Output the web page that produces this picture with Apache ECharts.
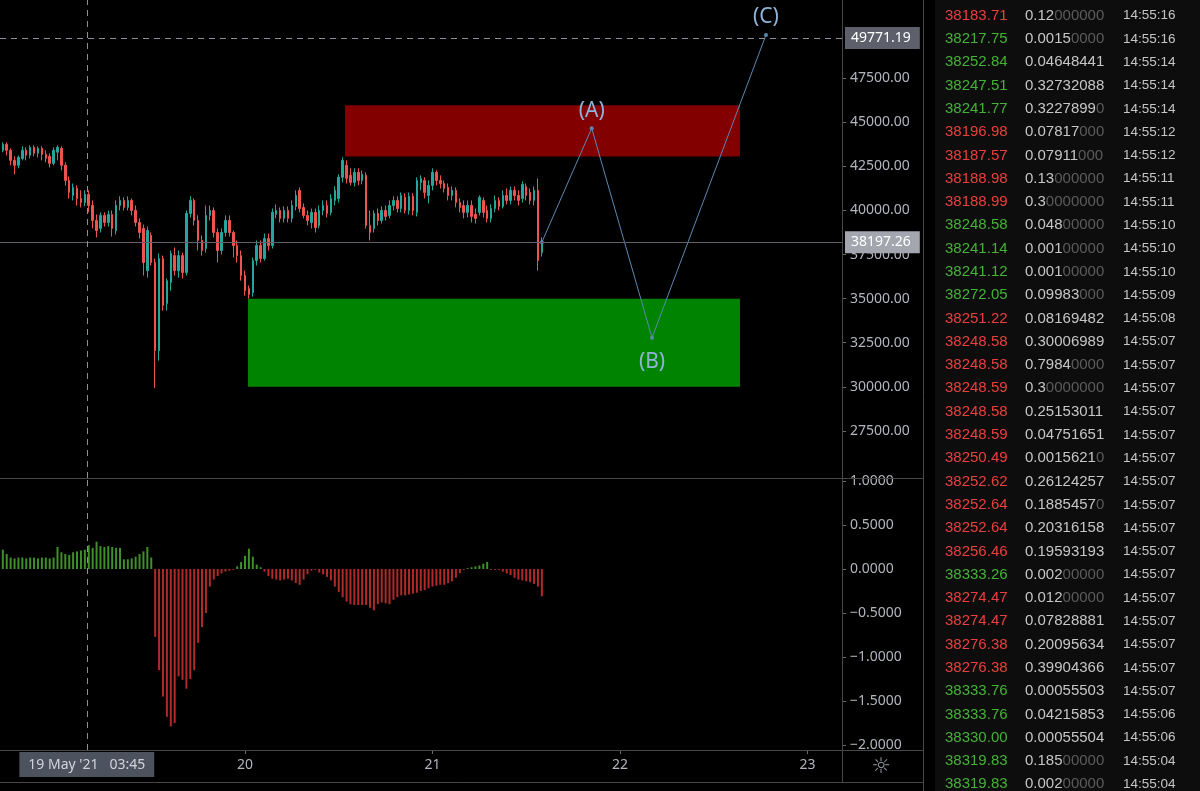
<!DOCTYPE html>
<html><head><meta charset="utf-8">
<script src="https://cdn.jsdelivr.net/npm/echarts@6/dist/echarts.min.js"></script>
<style>html,body{margin:0;padding:0;background:#000;}#c{width:1200px;height:791px;}</style>
</head><body><div id="c"></div>
<script>
// ---- data (hours are counted from 19 May 2021 00:00) ----
const candleStartHour = -7;
const candleStepHours = 0.5;
// [open, close, low, high]
const candles = [
[43410,43750,43300,43860],[43750,43410,43125,43860],[43410,42840,42560,43520],[42840,42560,42050,43070],
[42560,43010,42390,43125],[42950,43410,42840,43640],[43410,43125,42840,43580],[43125,43580,42950,43690],
[43580,43240,43070,43690],[43240,43520,43010,43640],[43520,43180,42840,43640],[43180,42950,42730,43410],
[43070,42670,42440,43240],[42670,43410,42560,43580],[43300,43580,42840,43690],[43520,42560,42270,43640],
[42560,41700,41420,42730],[41700,41020,40680,41930],[40850,41310,40570,41530],[41250,40680,40280,41420],
[40680,40450,40170,41140],[40450,40910,40230,41140],[40910,40280,39890,41140],[40280,39430,38980,40570],
[39430,38860,38470,39770],[38980,39720,38750,39890],[39720,39320,39090,39890],[39320,39770,39090,40000],
[39770,38980,38520,40000],[38860,40280,38640,40570],[40280,40570,40000,40800],[40570,40170,40000,40740],
[40170,40570,40000,40800],[40570,40000,39720,40680],[40000,39320,39090,40280],[39320,38750,38410,39550],
[38980,37050,36310,39200],[36590,38860,36190,39090],[38580,37050,36880,38750],[37050,32050,29940,37270],
[32050,37270,31480,37560],[37270,34600,34320,37440],[34720,36020,34320,36140],[35910,37560,35450,37730],
[37440,36590,36310,37900],[36590,37440,36190,37730],[37440,36480,36140,37610],[36480,39830,36310,40000],
[39830,40570,39600,40800],[40570,39430,39150,40680],[39430,38300,37730,39720],[38300,37730,37440,38580],
[37840,39720,37610,40280],[39720,40000,39430,40280],[40000,38750,38470,40170],[38750,37730,37050,38980],
[37730,38750,37500,38980],[38750,39430,38520,39720],[39430,38750,38520,39720],[38750,38010,37330,38860],
[38010,37440,37050,38300],[37440,36310,36020,37730],[36310,35450,35170,36590],[35570,35230,35000,35740],
[35340,37160,35110,37330],[37160,38010,36880,38300],[38010,37270,37050,38300],[37270,38410,37160,38690],
[38410,38010,37730,38690],[38010,39890,37840,40110],[39770,40000,39550,40340],[40000,39550,39320,40170],
[39550,40000,39320,40230],[40000,39550,39320,40230],[39550,40280,39320,40570],[40230,40850,40000,41140],
[41140,40110,39890,41310],[40170,39720,39550,40400],[39720,39430,39150,40000],[39320,39890,38980,40110],
[39890,39030,38750,40110],[39150,40000,38980,40280],[40000,40280,39720,40570],[40280,39830,39600,40570],
[39890,40680,39720,40910],[40570,41140,40280,41360],[40680,41880,40450,42050],[41880,42840,41590,43010],
[42560,41820,41530,42840],[41990,41590,41420,42390],[41590,42160,41360,42390],[42160,41700,41420,42390],
[41700,42050,41480,42270],[41990,39150,38980,42160],[39150,38750,38300,40000],[38980,39830,38750,40000],
[39830,39430,39150,40110],[39430,40000,39260,40230],[40000,39660,39430,40280],[39720,40280,39550,40570],
[40280,40570,40000,40800],[40570,40110,39890,40800],[40110,40850,39890,41020],[40740,40000,39830,40970],
[40000,40800,39770,41020],[40800,40000,39720,40970],[39890,41700,39660,41880],[41590,41820,41140,41990],
[41700,41020,40680,41880],[40850,41420,40400,41700],[41420,42160,41140,42390],[42160,41700,41420,42270],
[41700,41530,41250,41990],[41530,41250,41020,41700],[41310,40850,40570,41530],[40850,41140,40570,41360],
[41140,40450,40170,41310],[40450,40170,39890,40680],[40280,39890,39550,40570],[39890,40280,39600,40570],
[40280,39660,39320,40570],[39770,39550,39260,40110],[39890,40740,39720,40850],[40570,39890,39600,40740],
[40000,39550,39320,40280],[39550,40110,39320,40340],[40110,40570,39890,40850],[40570,40230,40000,40740],
[40230,40850,40110,41140],[40850,40570,40340,41250],[40570,41140,40340,41360],[41140,40850,40570,41360],
[40850,40570,40280,41140],[40680,41480,40450,41650],[41360,40850,40570,41530],[41020,40570,40340,41250],
[40570,41140,40280,41360],[41140,37160,36590,41820],[37610,38197.26,37390,38470]
];
const oscValues = [
0.22,0.17,0.13,0.12,0.13,0.13,0.12,0.13,0.13,0.12,0.13,0.13,0.12,0.13,0.25,0.19,0.17,0.16,0.19,0.20,
0.21,0.22,0.27,0.24,0.31,0.26,0.25,0.26,0.25,0.24,0.24,0.11,0.11,0.12,0.14,0.17,0.20,0.25,0.13,-0.77,
-1.15,-1.45,-1.68,-1.79,-1.75,-1.22,-1.26,-1.36,-1.25,-1.15,-0.84,-0.66,-0.50,-0.20,-0.12,-0.08,-0.05,-0.03,-0.02,-0.01,
0.03,0.08,0.15,0.23,0.14,0.05,0.02,-0.03,-0.08,-0.11,-0.12,-0.13,-0.12,-0.11,-0.13,-0.16,-0.18,-0.12,-0.06,-0.02,
-0.01,-0.04,-0.06,-0.09,-0.13,-0.20,-0.26,-0.32,-0.37,-0.40,-0.41,-0.41,-0.41,-0.41,-0.44,-0.47,-0.40,-0.38,-0.39,-0.40,
-0.35,-0.32,-0.30,-0.30,-0.29,-0.28,-0.27,-0.25,-0.24,-0.22,-0.20,-0.19,-0.18,-0.18,-0.16,-0.14,-0.10,-0.05,-0.01,0.01,
0.02,0.03,0.04,0.06,0.08,-0.01,-0.01,-0.01,-0.03,-0.05,-0.07,-0.10,-0.12,-0.13,-0.14,-0.15,-0.17,-0.20,-0.31
];
const dayTicks = [24, 48, 72, 96];
const dayLabels = ['20', '21', '22', '23'];
const priceTicks = [27500, 30000, 32500, 35000, 37500, 40000, 42500, 45000, 47500];
const oscTicks = [-2, -1.5, -1, -0.5, 0, 0.5, 1];
const lastPrice = 38197.26;
const crossPrice = 49771.19;
const crossHour = 3.75;
const crossLabel = "19 May '21   03:45";
// [fromHour, toHour, bottomPrice, topPrice]
const supplyZone = [36.8, 87.36, 43060, 45970];
const demandZone = [24.38, 87.36, 30000, 35000];
const waveHours = [62, 68.38, 76.1, 90.69];
const wavePrices = [38197.26, 44660, 32780, 49950];
const waveLabels = ['', '(A)', '(B)', '(C)'];
const tradePrices = ['38183.71','38217.75','38252.84','38247.51','38241.77','38196.98','38187.57','38188.98','38188.99','38248.58','38241.14','38241.12','38272.05','38251.22','38248.58','38248.58','38248.59','38248.58','38248.59','38250.49','38252.62','38252.64','38252.64','38256.46','38333.26','38274.47','38274.47','38276.38','38276.38','38333.76','38333.76','38330.00','38319.83','38319.83'];
const tradeSizes = ['0.12000000','0.00150000','0.04648441','0.32732088','0.32278990','0.07817000','0.07911000','0.13000000','0.30000000','0.04800000','0.00100000','0.00100000','0.09983000','0.08169482','0.30006989','0.79840000','0.30000000','0.25153011','0.04751651','0.00156210','0.26124257','0.18854570','0.20316158','0.19593193','0.00200000','0.01200000','0.07828881','0.20095634','0.39904366','0.00055503','0.04215853','0.00055504','0.18500000','0.00200000'];
const tradeTimes = ['14:55:16','14:55:16','14:55:14','14:55:14','14:55:14','14:55:12','14:55:12','14:55:11','14:55:11','14:55:10','14:55:10','14:55:10','14:55:09','14:55:08','14:55:07','14:55:07','14:55:07','14:55:07','14:55:07','14:55:07','14:55:07','14:55:07','14:55:07','14:55:07','14:55:07','14:55:07','14:55:07','14:55:07','14:55:07','14:55:07','14:55:06','14:55:06','14:55:04','14:55:04'];
const tradeSides = ['S','B','B','B','B','S','S','S','S','B','B','B','B','S','S','S','S','S','S','S','S','S','S','S','B','S','S','S','S','B','B','B','B','B'];

// ---- styling ----
const UP = '#26a69a', DOWN = '#ef5350';
const AXIS_TXT = '#b2b5be', SEP = '#474747', FONT = 'Noto Sans';
const X_MIN = -7.36, X_MAX = 100.42;

const candleData = candles.map((c, i) => [candleStartHour + i * candleStepHours, c[0], c[1], c[2], c[3]]);
const oscData = oscValues.map((v, i) => [candleStartHour + i * candleStepHours, v]);
const waveData = waveHours.map((h, i) => ({
  value: [h, wavePrices[i]],
  label: waveLabels[i] ? {show: true, formatter: waveLabels[i], position: i === 2 ? 'bottom' : 'top', distance: i === 2 ? 12 : 5} : {show: false}
}));

const graphics = [];
graphics.push({type: 'rect', shape: {x: 935, y: 0, width: 265, height: 791}, style: {fill: '#0d0d0d'}, z: 0});
const hl = (y, x1, x2) => graphics.push({type: 'line', shape: {x1: x1, y1: y + 0.5, x2: x2, y2: y + 0.5}, style: {stroke: SEP, lineWidth: 1}, z: 10});
const vl = (x, y1, y2) => graphics.push({type: 'line', shape: {x1: x + 0.5, y1: y1, x2: x + 0.5, y2: y2}, style: {stroke: SEP, lineWidth: 1}, z: 10});
hl(478, 0, 923); hl(750, 0, 923); hl(782, 0, 923);
vl(842, 0, 782); vl(923, 0, 791);
graphics.push({type: 'text', x: 881, y: 767, style: {text: '☼', fill: '#9598a1', fontSize: 22, fontFamily: 'DejaVu Sans', align: 'center', verticalAlign: 'middle', textAlign: 'center', textVerticalAlign: 'middle'}, z: 10});

const listTop = 15.7, rowH = 23.29;
tradePrices.forEach((p, i) => {
  const y = listTop + i * rowH;
  const col = tradeSides[i] === 'B' ? '#46b138' : '#e8403f';
  graphics.push({type: 'text', x: 945, y: y, style: {text: p, fill: col, fontSize: 15, fontFamily: 'Liberation Sans', verticalAlign: 'middle', textVerticalAlign: 'middle'}, z: 10});
  const m = tradeSizes[i].match(/^(.*?)(0*)$/);
  const txt = '{a|' + m[1] + '}' + (m[2] ? '{b|' + m[2] + '}' : '');
  graphics.push({type: 'text', x: 1025, y: y, style: {text: txt, fontSize: 15, fontFamily: 'Liberation Sans', verticalAlign: 'middle', textVerticalAlign: 'middle',
    rich: {a: {fill: '#c6c6c6', color: '#c6c6c6', fontSize: 15, fontFamily: 'Liberation Sans'}, b: {fill: '#5c5c5c', color: '#5c5c5c', fontSize: 15, fontFamily: 'Liberation Sans'}}}, z: 10});
  graphics.push({type: 'text', x: 1123, y: y, style: {text: tradeTimes[i], fill: '#c6c6c6', fontSize: 13.5, fontFamily: 'Liberation Sans', verticalAlign: 'middle', textVerticalAlign: 'middle'}, z: 10});
});

const priceLabel = (txt, bg) => ({show: true, position: 'end', formatter: txt, backgroundColor: bg, color: '#ffffff',
  padding: [3, 9, 3, 6], fontSize: 14, fontFamily: FONT, distance: 3, lineHeight: 16});

const chart = echarts.init(document.getElementById('c'), null, {renderer: 'canvas'});
chart.setOption({
  backgroundColor: '#000000',
  animation: false,
  grid: [
    {left: 0, top: 0, width: 842, height: 478},
    {left: 0, top: 478, width: 842, height: 272}
  ],
  xAxis: [
    {type: 'value', gridIndex: 0, min: X_MIN, max: X_MAX, show: false, axisLine: {onZero: false}, splitLine: {show: false}},
    {type: 'value', gridIndex: 1, min: X_MIN, max: X_MAX,
      axisLine: {show: true, onZero: false, lineStyle: {color: SEP}},
      axisTick: {show: true, length: 4, lineStyle: {color: '#6a6a6a'}, customValues: dayTicks},
      axisLabel: {show: true, customValues: dayTicks, color: AXIS_TXT, fontSize: 14, fontFamily: FONT, margin: 8,
        formatter: v => dayLabels[dayTicks.indexOf(v)] || ''},
      splitLine: {show: false}}
  ],
  yAxis: [
    {type: 'value', gridIndex: 0, position: 'right', min: 24830, max: 51932,
      axisLine: {show: true, onZero: false, lineStyle: {color: SEP}},
      axisTick: {show: true, length: 4, lineStyle: {color: '#6a6a6a'}, customValues: priceTicks},
      axisLabel: {show: true, customValues: priceTicks, color: AXIS_TXT, fontSize: 14, fontFamily: FONT, margin: 8, formatter: v => v.toFixed(2)},
      splitLine: {show: false}},
    {type: 'value', gridIndex: 1, position: 'right', min: -2.057, max: 1.034,
      axisLine: {show: true, onZero: false, lineStyle: {color: SEP}},
      axisTick: {show: true, length: 4, lineStyle: {color: '#6a6a6a'}, customValues: oscTicks},
      axisLabel: {show: true, customValues: oscTicks, color: AXIS_TXT, fontSize: 14, fontFamily: FONT, margin: 8,
        formatter: v => (v < 0 ? '\u2212' : '') + Math.abs(v).toFixed(4)},
      splitLine: {show: false}}
  ],
  series: [
    {
      type: 'candlestick', xAxisIndex: 0, yAxisIndex: 0,
      data: candleData, encode: {x: 0, y: [1, 2, 3, 4]},
      barWidth: 2,
      itemStyle: {color: UP, color0: DOWN, borderColor: UP, borderColor0: DOWN, borderWidth: 1},
      markArea: {silent: true, data: [
        [{coord: [supplyZone[0], supplyZone[3]], itemStyle: {color: '#820000'}}, {coord: [supplyZone[1], supplyZone[2]]}],
        [{coord: [demandZone[0], demandZone[3]], itemStyle: {color: '#008400'}}, {coord: [demandZone[1], demandZone[2]]}]
      ]},
      markLine: {silent: true, symbol: ['none', 'none'], z: 20, data: [
        {yAxis: lastPrice, lineStyle: {color: '#5f6068', type: 'solid', width: 1}, label: priceLabel(lastPrice.toFixed(2), '#a3a6af')},
        {yAxis: crossPrice, lineStyle: {color: '#8d9099', type: [6, 5], width: 1}, label: priceLabel(crossPrice.toFixed(2), '#5d606b')},
        {xAxis: crossHour, lineStyle: {color: '#8d9099', type: [6, 5], width: 1}, label: {show: false}}
      ]}
    },
    {
      type: 'line', xAxisIndex: 0, yAxisIndex: 0, data: waveData, z: 5,
      symbol: 'circle', symbolSize: 4, showSymbol: true,
      lineStyle: {color: '#5b88b3', width: 1}, itemStyle: {color: '#5b88b3'},
      label: {color: '#8fb3d9', fontSize: 21, fontFamily: FONT}
    },
    {
      type: 'bar', xAxisIndex: 1, yAxisIndex: 1, data: oscData, barWidth: 2,
      itemStyle: {color: p => p.value[1] >= 0 ? '#3f8f2a' : '#b02a2a'},
      markLine: {silent: true, symbol: ['none', 'none'], z: 20, data: [
        {xAxis: crossHour, lineStyle: {color: '#8d9099', type: [6, 5], width: 1},
          label: {show: true, position: 'start', formatter: crossLabel, backgroundColor: '#4c525e', color: '#d1d4dc',
            padding: [6, 9, 5, 9], fontSize: 14, fontFamily: FONT, distance: 2}}
      ]}
    }
  ],
  graphic: graphics
});
</script></body></html>
